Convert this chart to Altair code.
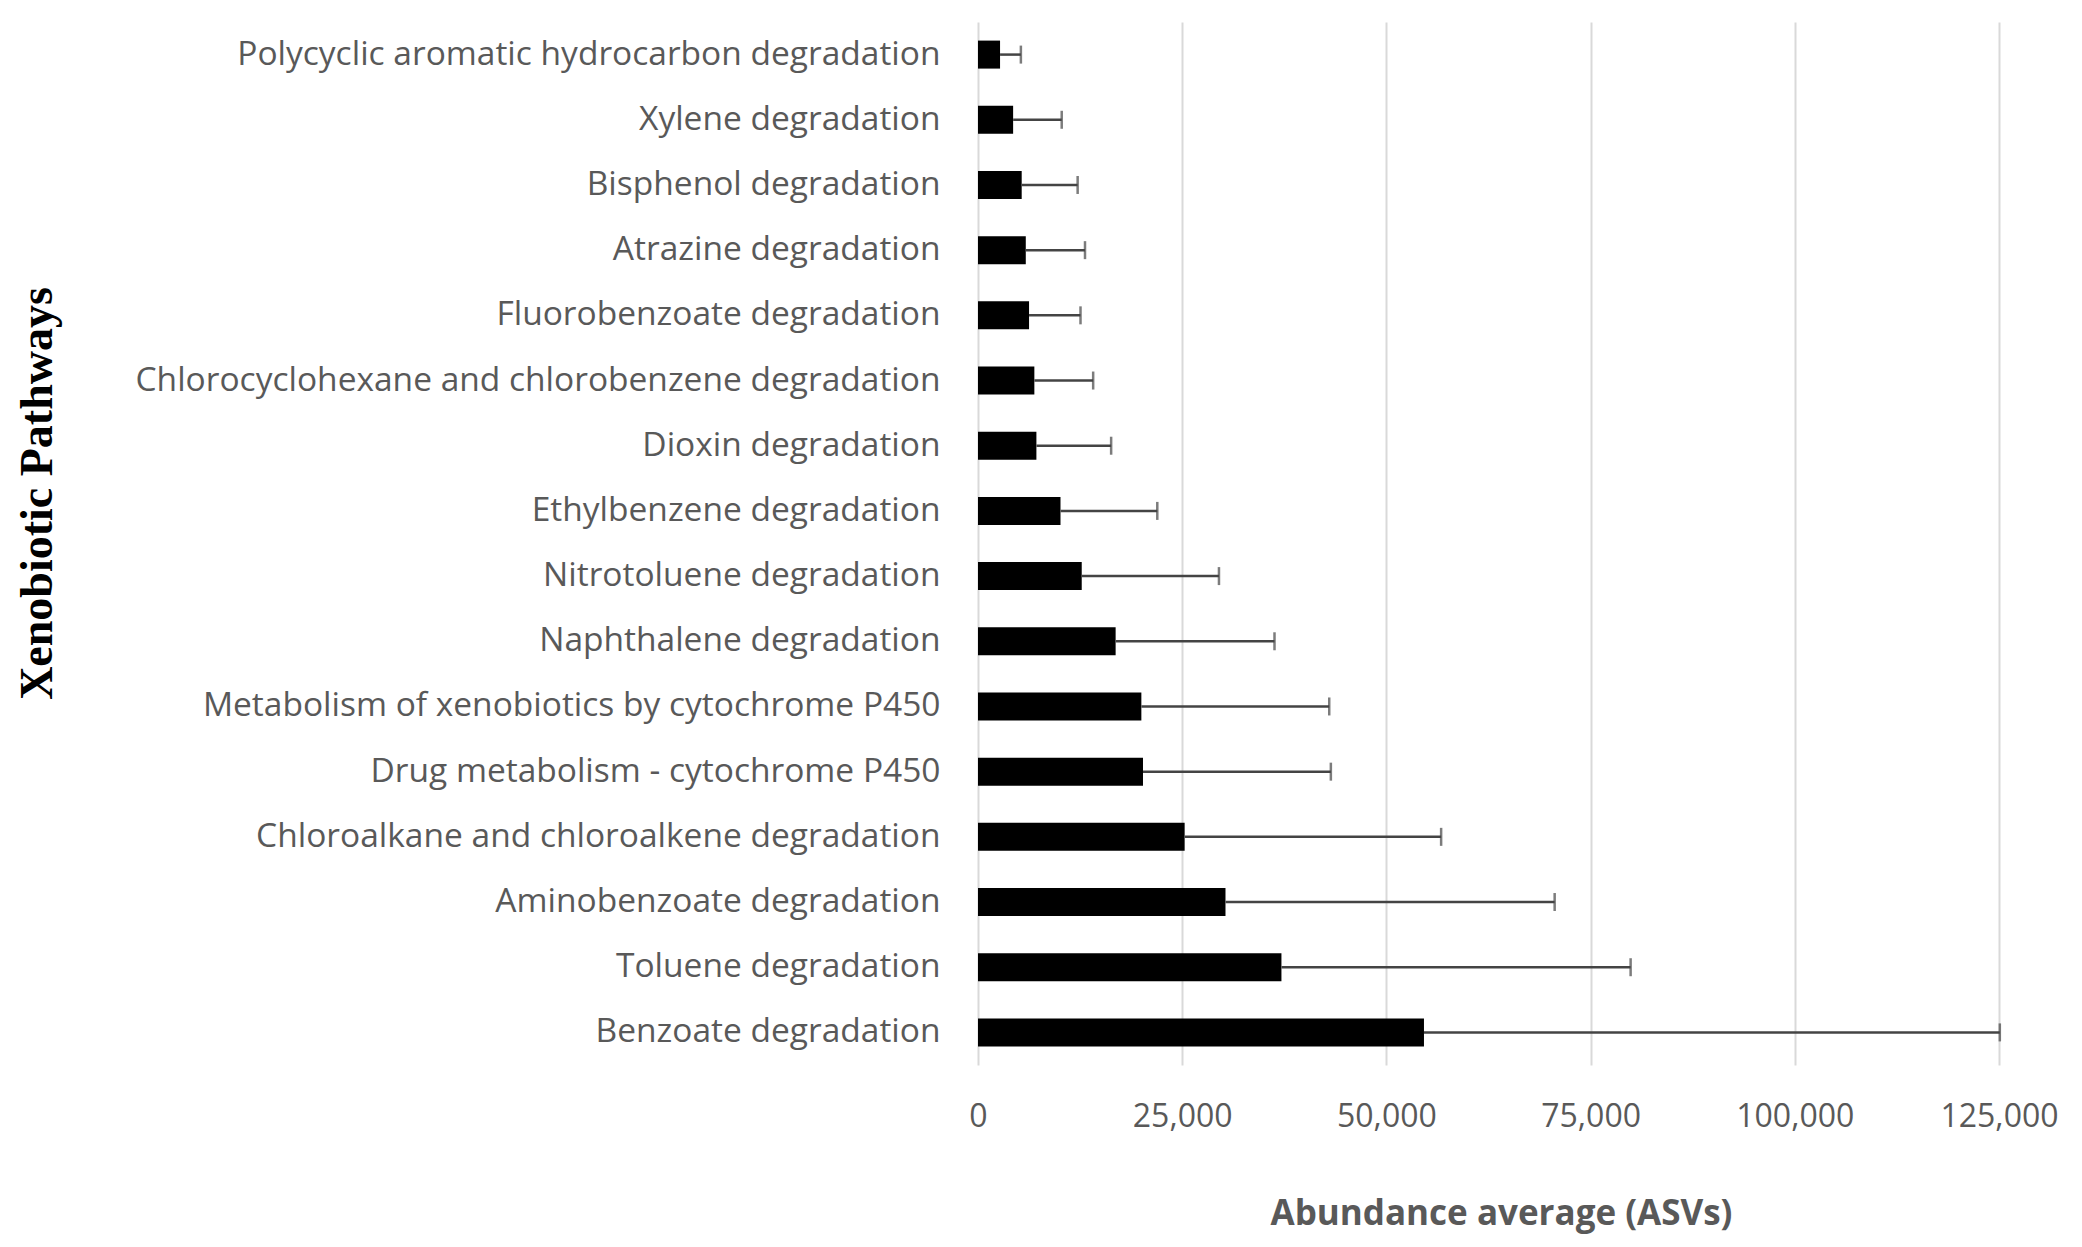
import altair as alt
import pandas as pd

pathways = [
    "Polycyclic aromatic hydrocarbon degradation",
    "Xylene degradation",
    "Bisphenol degradation",
    "Atrazine degradation",
    "Fluorobenzoate degradation",
    "Chlorocyclohexane and chlorobenzene degradation",
    "Dioxin degradation",
    "Ethylbenzene degradation",
    "Nitrotoluene degradation",
    "Naphthalene degradation",
    "Metabolism of xenobiotics by cytochrome P450",
    "Drug metabolism - cytochrome P450",
    "Chloroalkane and chloroalkene degradation",
    "Aminobenzoate degradation",
    "Toluene degradation",
    "Benzoate degradation",
]
abundance = [2700, 4300, 5350, 5850, 6250, 6900, 7150, 10100, 12700, 16850,
             20000, 20200, 25300, 30300, 37150, 54600]
sd = [2550, 5950, 6850, 7250, 6300, 7200, 9150, 11850, 16800, 19450,
      23000, 23000, 31400, 40300, 42750, 70500]
x_ticks = [0, 25000, 50000, 75000, 100000, 125000]

df = pd.DataFrame({"pathway": pathways, "mean": abundance, "sd": sd})
df["upper"] = df["mean"] + df["sd"]

LABEL_FONT = "Open Sans"

y_enc = alt.Y(
    "pathway:N",
    sort=pathways,
    axis=alt.Axis(
        title="Xenobiotic Pathways",
        titleFont="Liberation Serif",
        titleFontSize=46,
        titleFontWeight="bold",
        titleColor="#000000",
        titleAngle=270,
        titleAlign="center",
        titleBaseline="middle",
        titleX=-941,
        titleY=471,
        labelFont=LABEL_FONT,
        labelFontSize=33.5,
        labelColor="#595959",
        labelPadding=38,
        labelLimit=1000,
        domain=False,
        ticks=False,
        grid=False,
    ),
)

x_scale = alt.Scale(domain=[0, 125000], nice=False)
x_axis = alt.Axis(
    title="Abundance average (ASVs)",
    titleFont=LABEL_FONT,
    titleFontSize=35,
    titleFontWeight="bold",
    titleColor="#595959",
    titleX=523,
    titleY=148,
    titleAlign="center",
    titleBaseline="middle",
    values=x_ticks,
    format=",d",
    labelFont=LABEL_FONT,
    labelFontSize=32,
    labelColor="#595959",
    labelPadding=36,
    labelFlush=False,
    domain=False,
    ticks=False,
    grid=True,
    gridColor="#d9d9d9",
    gridWidth=2,
)

bars = alt.Chart(df).mark_bar(size=28, color="#000000").encode(
    x=alt.X("mean:Q", scale=x_scale, axis=x_axis),
    y=y_enc,
)

rules = alt.Chart(df).mark_rule(color="#444444", strokeWidth=2.5).encode(
    x=alt.X("mean:Q", scale=x_scale),
    x2="upper:Q",
    y=alt.Y("pathway:N", sort=pathways),
)

caps = alt.Chart(df).mark_tick(color="#444444", thickness=2.5, size=18).encode(
    x=alt.X("upper:Q", scale=x_scale),
    y=alt.Y("pathway:N", sort=pathways),
)

chart = alt.layer(bars, rules, caps).properties(
    width=1021,
    height=1043,
    autosize=alt.AutoSizeParams(type="none"),
    padding={"left": 970, "top": 14, "right": 70, "bottom": 170},
    background="#ffffff",
).configure_view(stroke=None)

chart.save("out.html", embed_options={"renderer": "svg", "actions": False})
